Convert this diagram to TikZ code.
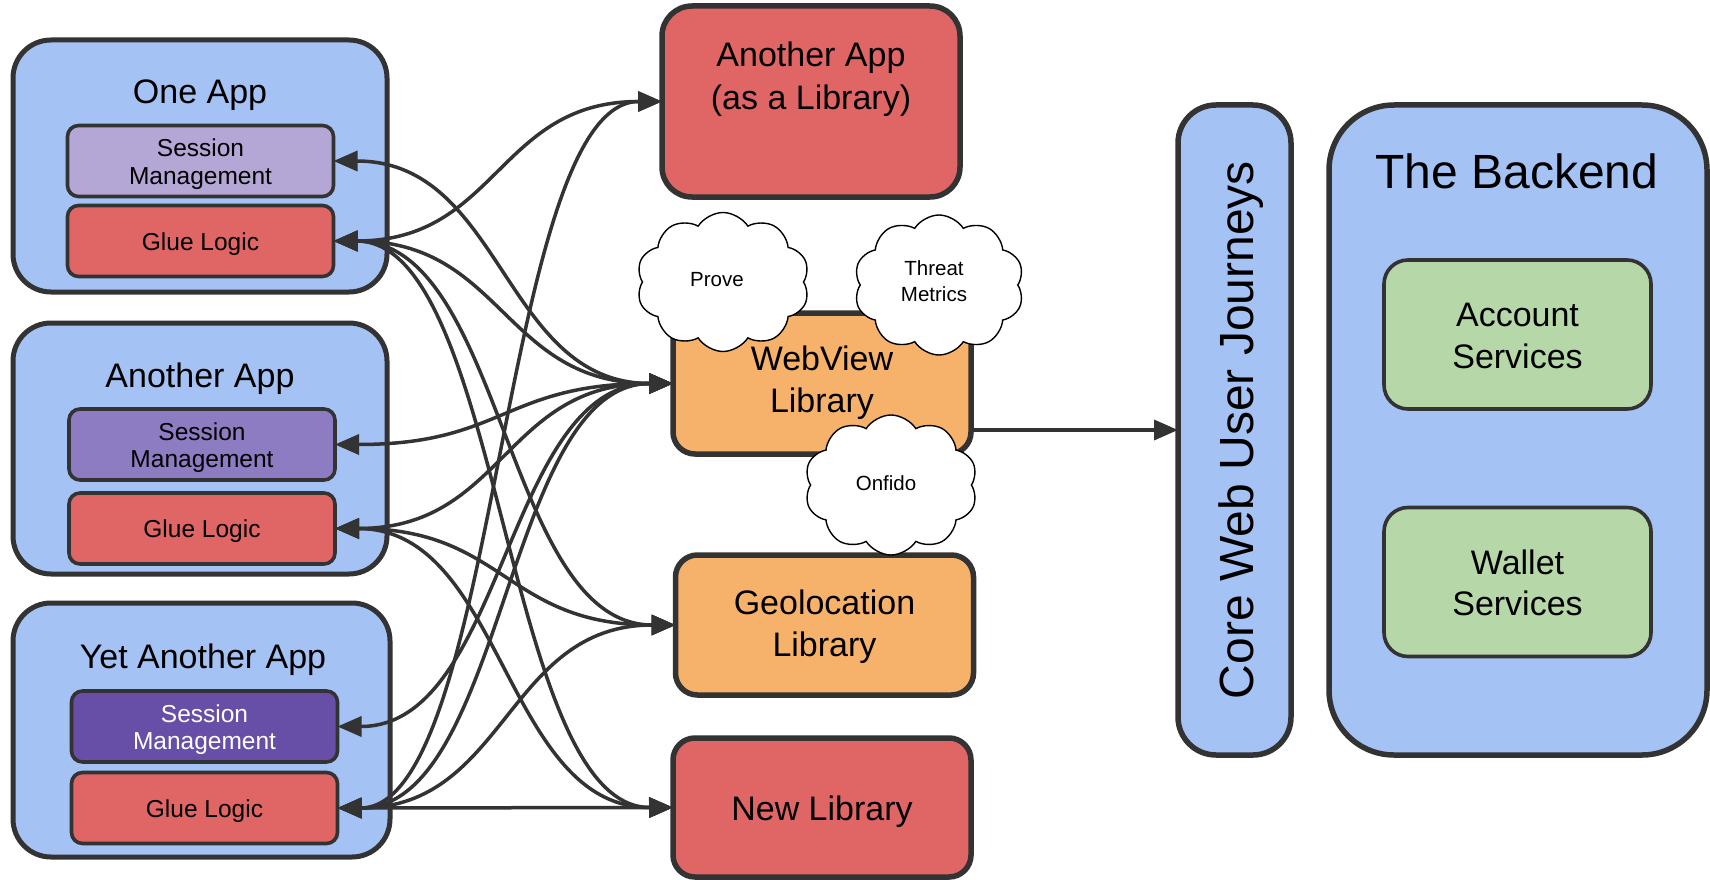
\documentclass[tikz,border=0pt]{standalone}
\usepackage{fontspec}
\setmainfont{Liberation Sans}
\usetikzlibrary{arrows.meta,shapes.symbols,calc}
\definecolor{appblue}{HTML}{A4C2F4}
\definecolor{purpA}{HTML}{B4A7D6}
\definecolor{purpB}{HTML}{8E7CC3}
\definecolor{purpC}{HTML}{674EA7}
\definecolor{redbox}{HTML}{E06666}
\definecolor{orangebox}{HTML}{F6B26B}
\definecolor{greenbox}{HTML}{B6D7A8}
\definecolor{edgegray}{HTML}{333333}
\newcommand\fntTitle{\fontsize{34}{42}\selectfont}
\newcommand\fntHuge{\fontsize{48}{56}\selectfont}
\newcommand\fntSmall{\fontsize{24.5}{27}\selectfont}
\newcommand\fntCloud{\fontsize{20.5}{26}\selectfont}
\newcommand\linkc[2]{\draw[conn] let \p1=(#1), \p2=(#2), \n1={(\x2-\x1)/2} in (#1) .. controls +(\n1,0) and +(-\n1,0) .. (#2);}
\begin{document}
\begin{tikzpicture}[x=1pt,y=-1pt,
  box/.style={draw=edgegray, rectangle, inner sep=0pt, outer sep=0pt},
  appbox/.style={box, fill=appblue, line width=5pt, rounded corners=38pt},
  inbox/.style={box, line width=3.6pt, rounded corners=11pt, minimum width=266pt, minimum height=71pt},
  libbox/.style={box, line width=5.5pt, minimum width=298pt},
  svcbox/.style={box, fill=greenbox, line width=3.6pt, rounded corners=24pt, minimum width=267pt, minimum height=149pt},
  txt/.style={anchor=base, inner sep=0pt, outer sep=0pt},
  tipx/.tip={Triangle[length=24pt,width=20pt]},
  conn/.style={draw=edgegray, line width=3.5pt, tipx-tipx},
  oneway/.style={draw=edgegray, line width=3.5pt, -tipx},
  cloudn/.style={cloud, cloud puffs=10, cloud puff arc=115, cloud ignores aspect, draw=black, fill=white, line width=1.4pt, inner sep=0pt}
]
\useasboundingbox (0,0) rectangle (1710,880);
% left column
\node[appbox, minimum width=374pt, minimum height=252pt] (app1) at (200,166) {};
\node[inbox, fill=purpA] (s1) at (200.5,161) {};
\node[inbox, fill=redbox] (g1) at (200.5,241) {};
\node[appbox, minimum width=374pt, minimum height=251pt] (app2) at (200,448.5) {};
\node[inbox, fill=purpB] (s2) at (202,444.5) {};
\node[inbox, fill=redbox] (g2) at (202,528.5) {};
\node[appbox, minimum width=377pt, minimum height=254pt] (app3) at (201.5,730) {};
\node[inbox, fill=purpC] (s3) at (204.5,726.5) {};
\node[inbox, fill=redbox] (g3) at (204.5,808) {};
% middle column
\node[libbox, fill=redbox, minimum height=191pt, rounded corners=30pt] (al) at (811,101.5) {};
\node[libbox, fill=orangebox, minimum height=141pt, rounded corners=22pt] (wv) at (822,383.5) {};
\node[libbox, fill=orangebox, minimum height=140pt, rounded corners=22pt] (geo) at (824.5,625) {};
\node[libbox, fill=redbox, minimum height=139pt, rounded corners=22pt] (nl) at (822,807.5) {};
% right column
\node[box, fill=appblue, line width=5.5pt, rounded corners=38pt, minimum width=113pt, minimum height=650pt] (core) at (1234.5,430) {};
\node[box, fill=appblue, line width=5.5pt, rounded corners=65pt, minimum width=378pt, minimum height=650pt] (be) at (1518,430) {};
\node[svcbox] (acc) at (1517.5,334.5) {};
\node[svcbox] (wal) at (1517.5,582) {};
% connectors
\linkc{s1.east}{wv.west}
\linkc{g1.east}{al.west}
\linkc{g1.east}{wv.west}
\linkc{g1.east}{geo.west}
\linkc{g1.east}{nl.west}
\linkc{s2.east}{wv.west}
\linkc{g2.east}{wv.west}
\linkc{g2.east}{geo.west}
\linkc{g2.east}{nl.west}
\linkc{s3.east}{wv.west}
\linkc{g3.east}{al.west}
\linkc{g3.east}{wv.west}
\linkc{g3.east}{geo.west}
\draw[conn] (g3.east) -- (nl.west);
\draw[oneway] (wv.east |- core.west) -- (core.west);
% clouds
\node[cloudn, minimum width=173pt, minimum height=139pt] (cprove) at (723,282) {};
\node[cloudn, minimum width=170pt, minimum height=140pt] (cthreat) at (939,285) {};
\node[cloudn, minimum width=173pt, minimum height=140pt] (conf) at (891,485) {};
% texts
\node[txt, font=\fntTitle] (tOne) at (200,104) {One App};
\node[txt, font=\fntSmall] (tS1a) at (200.5,157) {Session};
\node[txt, font=\fntSmall] (tS1b) at (200.5,184) {Management};
\node[txt, font=\fntSmall] (tG1) at (200.5,250) {Glue Logic};
\node[txt, font=\fntTitle] (tAnother) at (200,387) {Another App};
\node[txt, font=\fntSmall] (tS2a) at (202,440.5) {Session};
\node[txt, font=\fntSmall] (tS2b) at (202,467.5) {Management};
\node[txt, font=\fntSmall] (tG2) at (202,537) {Glue Logic};
\node[txt, font=\fntTitle] (tYet) at (203,668) {Yet Another App};
\node[txt, font=\fntSmall, text=white] (tS3a) at (204.5,722.5) {Session};
\node[txt, font=\fntSmall, text=white] (tS3b) at (204.5,749.5) {Management};
\node[txt, font=\fntSmall] (tG3) at (204.5,817) {Glue Logic};
\node[txt, font=\fntTitle] (tAL1) at (811,67) {Another App};
\node[txt, font=\fntTitle] (tAL2) at (811,110) {(as a Library)};
\node[txt, font=\fntTitle] (tWV1) at (822,370) {WebView};
\node[txt, font=\fntTitle] (tWV2) at (822,412) {Library};
\node[txt, font=\fntTitle] (tGeo1) at (824.5,614) {Geolocation};
\node[txt, font=\fntTitle] (tGeo2) at (824.5,656) {Library};
\node[txt, font=\fntTitle] (tNL) at (822,820) {New Library};
\node[txt, font=\fntHuge, rotate=90] (tCore) at (1253,430) {Core Web User Journeys};
\node[txt, font=\fntHuge] (tBE) at (1517,188) {The Backend};
\node[txt, font=\fntTitle] (tAcc1) at (1517.5,326) {Account};
\node[txt, font=\fntTitle] (tAcc2) at (1517.5,368) {Services};
\node[txt, font=\fntTitle] (tWal1) at (1517.5,574) {Wallet};
\node[txt, font=\fntTitle] (tWal2) at (1517.5,615) {Services};
\node[txt, font=\fntCloud] (tProve) at (717,286) {Prove};
\node[txt, font=\fntCloud] (tThreat) at (934,275) {Threat};
\node[txt, font=\fntCloud] (tMetrics) at (934,301) {Metrics};
\node[txt, font=\fntCloud] (tOnfido) at (886,490) {Onfido};
\end{tikzpicture}
\end{document}
